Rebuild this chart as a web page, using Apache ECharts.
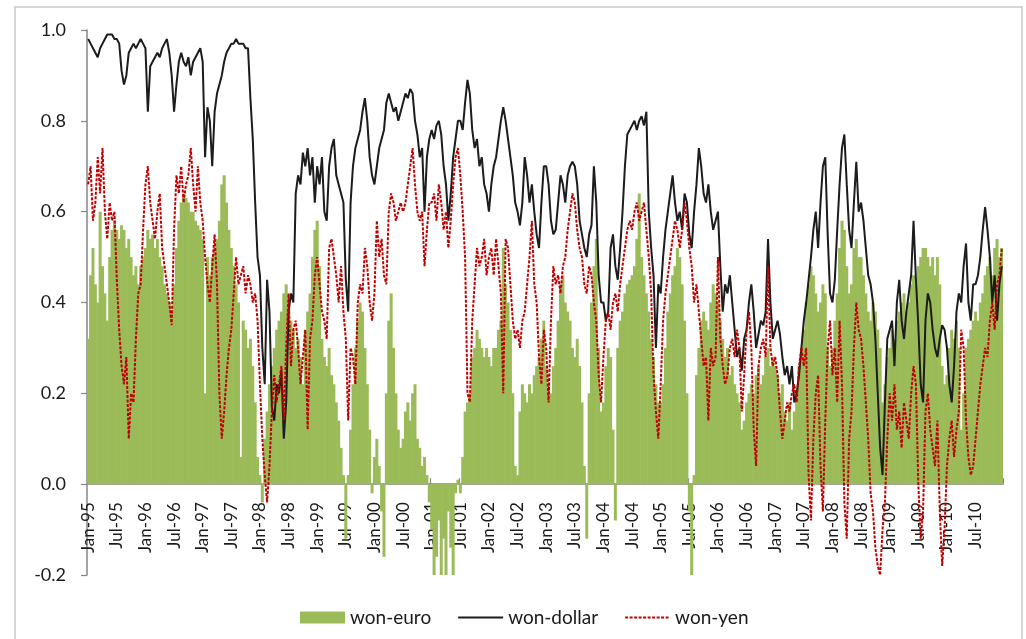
<!DOCTYPE html>
<html><head><meta charset="utf-8">
<script src="https://cdn.jsdelivr.net/npm/echarts@6/dist/echarts.min.js"></script>
<style>html,body{margin:0;padding:0;background:#fff}#c{width:1026px;height:639px}</style>
</head><body><div id="c"></div>
<script>
// Half-year tick labels (each half-year holds 12 semi-monthly observations)
const tickLabels = ["Jan-95","Jul-95","Jan-96","Jul-96","Jan-97","Jul-97","Jan-98","Jul-98",
  "Jan-99","Jul-99","Jan-00","Jul-00","Jan-01","Jul-01","Jan-02","Jul-02",
  "Jan-03","Jul-03","Jan-04","Jul-04","Jan-05","Jul-05","Jan-06","Jul-06",
  "Jan-07","Jul-07","Jan-08","Jul-08","Jan-09","Jul-09","Jan-10","Jul-10"];
const obsPerHalfYear = 12;
const yTicks = [-0.2, 0.0, 0.2, 0.4, 0.6, 0.8, 1.0];

const wonEuro = [
 0.32,0.46,0.52,0.44,0.40,0.60,0.48,0.42,0.36,0.50,0.56,0.58,
 0.56,0.54,0.57,0.56,0.52,0.54,0.50,0.46,0.48,0.44,0.48,0.50,
 0.52,0.56,0.54,0.55,0.52,0.54,0.50,0.48,0.44,0.42,0.40,0.38,
 0.44,0.52,0.58,0.62,0.64,0.63,0.62,0.60,0.60,0.58,0.57,0.56,
 0.54,0.20,0.50,0.46,0.50,0.52,0.54,0.58,0.66,0.68,0.62,0.56,
 0.52,0.48,0.44,0.40,0.06,0.36,0.34,0.30,0.32,0.26,0.18,0.06,
 0.02,-0.04,0.10,0.16,0.22,0.26,0.30,0.34,0.36,0.38,0.42,0.44,
 0.40,0.36,0.34,0.30,0.32,0.28,0.22,0.34,0.38,0.42,0.50,0.56,
 0.58,0.48,0.32,0.28,0.26,0.30,0.24,0.22,0.18,0.14,0.08,0.02,
 -0.12,0.02,0.12,0.22,0.30,0.36,0.40,0.38,0.30,0.22,0.12,-0.02,
 0.06,0.10,0.04,-0.06,-0.16,0.20,0.36,0.42,0.30,0.20,0.12,0.08,
 0.10,0.16,0.18,0.14,0.20,0.22,0.10,0.08,0.04,0.06,0.02,-0.04,
 -0.10,-0.20,-0.16,-0.08,-0.20,-0.12,-0.20,-0.06,-0.14,-0.20,-0.02,0.01,
 -0.02,0.06,0.16,0.18,0.20,0.28,0.30,0.34,0.32,0.30,0.28,0.30,
 0.28,0.26,0.30,0.30,0.34,0.36,0.52,0.44,0.40,0.34,0.20,0.04,
 0.02,0.16,0.22,0.20,0.18,0.22,0.20,0.24,0.26,0.28,0.32,0.36,
 0.26,0.22,0.20,0.26,0.30,0.36,0.44,0.46,0.40,0.38,0.36,0.30,
 0.28,0.32,0.26,0.18,0.04,-0.12,0.20,0.40,0.48,0.54,0.30,0.16,
 0.18,0.26,0.30,0.28,0.12,-0.08,0.30,0.36,0.38,0.42,0.44,0.45,
 0.46,0.48,0.54,0.64,0.50,0.46,0.42,0.38,0.32,0.28,0.22,0.18,
 0.18,0.22,0.30,0.38,0.42,0.46,0.48,0.52,0.50,0.44,0.36,0.20,
 -0.06,-0.20,0.02,0.24,0.30,0.36,0.38,0.36,0.34,0.40,0.44,0.42,
 0.40,0.36,0.32,0.28,0.30,0.24,0.26,0.22,0.20,0.18,0.12,0.14,
 0.18,0.20,0.22,0.20,0.24,0.26,0.22,0.24,0.28,0.30,0.26,0.28,
 0.26,0.24,0.20,0.22,0.16,0.14,0.18,0.12,0.16,0.20,0.26,0.30,
 0.34,0.40,0.44,0.48,0.46,0.42,0.38,0.40,0.44,0.42,0.30,0.26,
 0.30,0.36,0.42,0.52,0.58,0.56,0.48,0.42,0.44,0.52,0.54,0.50,
 0.50,0.46,0.42,0.38,0.36,0.40,0.38,0.34,0.30,0.18,0.22,0.28,
 0.30,0.34,0.32,0.36,0.38,0.40,0.42,0.38,0.40,0.44,0.46,0.44,
 0.48,0.50,0.52,0.52,0.50,0.48,0.50,0.46,0.50,0.44,0.26,0.22,
 0.24,0.30,0.34,0.32,0.36,0.30,0.12,0.20,0.30,0.32,0.34,0.36,
 0.38,0.36,0.40,0.42,0.46,0.48,0.50,0.46,0.52,0.54,0.50,0.52];

const wonDollar = [
 0.98,0.97,0.96,0.95,0.94,0.96,0.97,0.98,0.99,0.99,0.99,0.98,
 0.98,0.97,0.91,0.88,0.90,0.95,0.96,0.97,0.96,0.97,0.98,0.97,
 0.96,0.82,0.92,0.93,0.94,0.95,0.94,0.96,0.97,0.98,0.95,0.90,
 0.82,0.88,0.93,0.95,0.93,0.92,0.94,0.90,0.93,0.94,0.95,0.96,
 0.93,0.72,0.83,0.80,0.70,0.82,0.86,0.88,0.90,0.93,0.95,0.96,
 0.97,0.97,0.98,0.97,0.97,0.97,0.96,0.96,0.85,0.76,0.62,0.50,
 0.46,0.30,0.22,0.45,0.38,0.17,0.14,0.22,0.20,0.25,0.10,0.18,
 0.38,0.42,0.40,0.64,0.68,0.66,0.73,0.70,0.74,0.68,0.72,0.62,
 0.70,0.66,0.72,0.60,0.58,0.70,0.74,0.76,0.68,0.66,0.64,0.62,
 0.45,0.38,0.62,0.70,0.74,0.76,0.78,0.82,0.85,0.80,0.72,0.68,
 0.66,0.70,0.74,0.76,0.78,0.84,0.86,0.84,0.82,0.83,0.80,0.82,
 0.84,0.86,0.85,0.87,0.86,0.80,0.77,0.72,0.74,0.60,0.72,0.76,
 0.78,0.76,0.79,0.80,0.77,0.70,0.66,0.58,0.64,0.72,0.76,0.80,
 0.80,0.78,0.84,0.89,0.86,0.78,0.74,0.76,0.70,0.72,0.66,0.64,
 0.60,0.66,0.70,0.72,0.76,0.80,0.83,0.80,0.76,0.72,0.68,0.62,
 0.60,0.57,0.62,0.72,0.68,0.62,0.66,0.60,0.55,0.52,0.62,0.70,
 0.70,0.66,0.58,0.55,0.56,0.62,0.68,0.66,0.62,0.68,0.70,0.71,
 0.70,0.66,0.58,0.55,0.52,0.50,0.55,0.57,0.70,0.62,0.46,0.40,
 0.40,0.36,0.38,0.52,0.55,0.48,0.45,0.52,0.60,0.70,0.77,0.78,
 0.79,0.80,0.78,0.80,0.81,0.79,0.82,0.60,0.52,0.46,0.30,0.44,
 0.42,0.50,0.56,0.60,0.64,0.68,0.62,0.58,0.60,0.56,0.64,0.62,
 0.55,0.52,0.60,0.66,0.74,0.70,0.64,0.62,0.66,0.60,0.56,0.58,
 0.60,0.48,0.38,0.44,0.42,0.46,0.40,0.34,0.28,0.30,0.25,0.32,
 0.34,0.40,0.44,0.38,0.30,0.33,0.36,0.35,0.38,0.54,0.40,0.32,
 0.34,0.36,0.33,0.28,0.24,0.26,0.22,0.26,0.18,0.20,0.24,0.30,
 0.36,0.40,0.45,0.50,0.56,0.60,0.52,0.62,0.70,0.72,0.55,0.42,
 0.40,0.45,0.56,0.66,0.74,0.77,0.66,0.56,0.52,0.62,0.71,0.60,
 0.62,0.58,0.52,0.46,0.44,0.40,0.32,0.20,0.08,0.02,0.18,0.32,
 0.34,0.36,0.26,0.40,0.45,0.36,0.32,0.38,0.42,0.46,0.58,0.45,
 0.35,0.22,0.18,0.36,0.42,0.40,0.34,0.30,0.28,0.32,0.35,0.34,
 0.30,0.22,0.18,0.26,0.38,0.42,0.40,0.48,0.53,0.40,0.36,0.44,
 0.44,0.46,0.50,0.56,0.61,0.56,0.50,0.40,0.46,0.36,0.44,0.48];

const wonYen = [
 0.66,0.70,0.58,0.62,0.72,0.64,0.74,0.60,0.54,0.62,0.58,0.60,
 0.45,0.34,0.26,0.22,0.28,0.10,0.20,0.18,0.32,0.42,0.44,0.56,
 0.66,0.70,0.62,0.58,0.54,0.60,0.64,0.52,0.48,0.44,0.40,0.35,
 0.56,0.68,0.64,0.70,0.62,0.66,0.68,0.74,0.66,0.60,0.70,0.62,
 0.58,0.50,0.44,0.40,0.48,0.55,0.44,0.20,0.10,0.16,0.24,0.30,
 0.34,0.42,0.50,0.44,0.46,0.48,0.42,0.46,0.44,0.40,0.42,0.36,
 0.22,0.10,0.02,-0.04,0.04,0.16,0.24,0.18,0.22,0.26,0.14,0.30,
 0.42,0.26,0.34,0.36,0.30,0.22,0.28,0.34,0.12,0.32,0.36,0.46,
 0.50,0.44,0.38,0.36,0.32,0.52,0.54,0.50,0.46,0.40,0.48,0.38,
 0.32,0.14,0.30,0.28,0.22,0.40,0.44,0.42,0.52,0.48,0.40,0.36,
 0.42,0.58,0.50,0.54,0.46,0.44,0.60,0.64,0.62,0.58,0.60,0.62,
 0.60,0.62,0.66,0.70,0.74,0.66,0.60,0.58,0.60,0.48,0.56,0.62,
 0.62,0.64,0.58,0.66,0.62,0.56,0.60,0.52,0.58,0.66,0.72,0.74,
 0.68,0.60,0.50,0.20,0.18,0.36,0.44,0.52,0.48,0.50,0.54,0.46,
 0.50,0.52,0.46,0.54,0.48,0.42,0.20,0.54,0.52,0.44,0.36,0.32,
 0.34,0.30,0.36,0.38,0.44,0.50,0.58,0.44,0.40,0.28,0.22,0.34,
 0.30,0.18,0.36,0.48,0.44,0.46,0.42,0.48,0.50,0.56,0.60,0.64,
 0.62,0.56,0.52,0.50,0.44,0.42,0.48,0.46,0.40,0.36,0.24,0.18,
 0.28,0.36,0.38,0.34,0.40,0.42,0.38,0.44,0.48,0.52,0.56,0.58,
 0.56,0.60,0.62,0.58,0.60,0.62,0.56,0.50,0.42,0.24,0.16,0.10,
 0.22,0.36,0.42,0.46,0.50,0.54,0.58,0.56,0.52,0.56,0.62,0.58,
 0.52,0.48,0.40,0.44,0.38,0.32,0.26,0.28,0.14,0.30,0.26,0.28,
 0.50,0.32,0.26,0.22,0.24,0.30,0.32,0.28,0.34,0.30,0.16,0.24,
 0.34,0.38,0.30,0.12,0.04,0.26,0.30,0.32,0.28,0.48,0.30,0.26,
 0.28,0.24,0.16,0.10,0.14,0.18,0.16,0.20,0.22,0.18,0.26,0.30,
 0.26,0.30,0.02,-0.08,0.10,0.20,0.24,0.04,-0.06,0.14,0.30,0.36,
 0.24,0.30,0.18,0.36,0.22,-0.04,-0.12,0.10,0.16,0.30,0.40,0.34,
 0.32,0.26,0.18,0.10,-0.02,-0.06,-0.14,-0.18,-0.20,-0.10,-0.04,0.10,
 0.20,0.14,0.22,0.12,0.16,0.08,0.18,0.14,0.10,0.20,0.26,0.22,
 0.00,-0.12,-0.06,0.16,0.20,0.12,0.08,0.04,0.14,-0.06,-0.18,-0.10,
 0.04,0.10,0.14,0.06,0.12,0.16,0.34,0.30,0.14,0.06,0.02,0.04,
 0.10,0.16,0.22,0.26,0.30,0.28,0.36,0.40,0.34,0.44,0.46,0.52];

const seriesNames = ["won-euro", "won-dollar", "won-yen"];

// build category list: one entry per observation, labelled by its half-year
const categories = [];
tickLabels.forEach(function (t) {
  for (let k = 0; k < obsPerHalfYear; k++) categories.push(t + "|" + k);
});
const showTick = function (i) { return i % obsPerHalfYear === 0; };

const chart = echarts.init(document.getElementById('c'), null, { renderer: 'canvas' });
const axisGray = '#868686';
const gridTop = 30, gridBottom = 64, chartH = 639;
const plotH = chartH - gridTop - gridBottom;
const yMin = yTicks[0], yMax = yTicks[yTicks.length - 1];
// move the category axis (line, ticks, labels) up to the zero line
const zeroOffset = -plotH * (0 - yMin) / (yMax - yMin);

chart.setOption({
  animation: false,
  backgroundColor: '#ffffff',
  textStyle: { fontFamily: 'Lato' },
  graphic: [{
    type: 'rect', silent: true, z: -10,
    shape: { x: 15, y: 7, width: 1007, height: 660 },
    style: { fill: 'none', stroke: '#C8C8C8', lineWidth: 1.5 }
  }],
  grid: { left: 87, right: 23, top: gridTop, bottom: gridBottom, containLabel: false },
  legend: {
    left: 295, top: 603,
    itemWidth: 45, itemHeight: 12, itemGap: 26,
    textStyle: { fontSize: 19, color: '#1a1a1a', fontFamily: 'Lato' },
    data: [
      { name: seriesNames[0], icon: 'rect' },
      { name: seriesNames[1], itemStyle: { opacity: 0, borderWidth: 0 } },
      { name: seriesNames[2], itemStyle: { opacity: 0, borderWidth: 0 } }
    ]
  },
  xAxis: {
    type: 'category',
    data: categories,
    boundaryGap: true,
    position: 'bottom',
    offset: zeroOffset,
    axisLine: { onZero: false, lineStyle: { color: axisGray, width: 1.5 } },
    axisTick: { show: true, inside: true, length: 6, interval: showTick, lineStyle: { color: axisGray, width: 1.2 } },
    axisLabel: {
      interval: showTick, rotate: 90, margin: 18, fontSize: 17, color: '#1a1a1a',
      formatter: function (v) { return v.split('|')[0]; }
    },
    splitLine: { show: false }
  },
  yAxis: {
    type: 'value',
    min: yMin, max: yMax, interval: 0.2,
    axisLine: { show: true, lineStyle: { color: axisGray, width: 1.5 } },
    axisTick: { show: true, length: 6, lineStyle: { color: axisGray, width: 1.2 } },
    axisLabel: { fontSize: 18, margin: 21, color: '#1a1a1a', formatter: function (v) { return v.toFixed(1); } },
    splitLine: { show: false }
  },
  series: [
    {
      name: seriesNames[0], type: 'bar', data: wonEuro,
      barWidth: 3,
      itemStyle: { color: '#9BBB59' }
    },
    {
      name: seriesNames[1], type: 'line', data: wonDollar,
      symbol: 'none', z: 3,
      lineStyle: { color: '#1c1c1c', width: 2 },
      itemStyle: { color: '#1c1c1c' }
    },
    {
      name: seriesNames[2], type: 'line', data: wonYen,
      symbol: 'none', z: 4,
      lineStyle: { color: '#C00000', width: 2, type: [3, 1.5] },
      itemStyle: { color: '#C00000' }
    }
  ]
});
</script>
</body></html>
